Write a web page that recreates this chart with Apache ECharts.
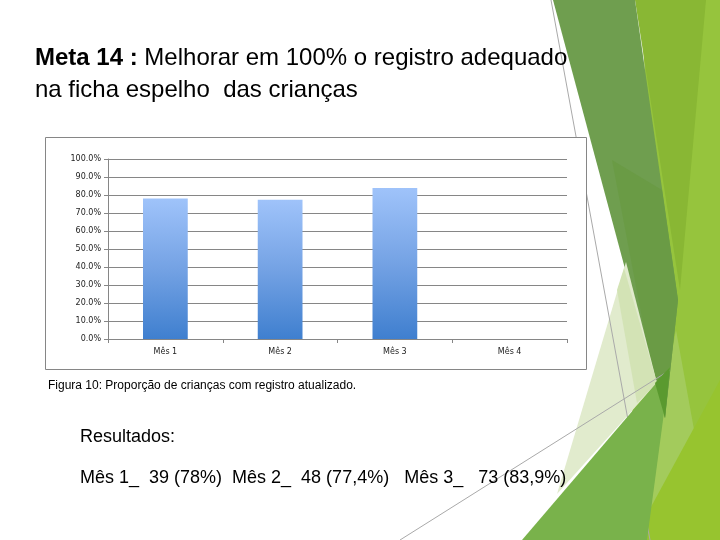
<!DOCTYPE html>
<html><head><meta charset="utf-8">
<script src="https://cdn.jsdelivr.net/npm/echarts@6/dist/echarts.min.js"></script>
<style>html,body{margin:0;padding:0;background:#fff}#c{width:720px;height:540px}</style>
</head><body><div id="c"></div>
<script>
const categories = ['Mês 1', 'Mês 2', 'Mês 3', 'Mês 4'];
const proportions = [0.78, 0.774, 0.839, null];
const titleLine1 = 'Melhorar em 100% o registro adequado';
const titleBold = 'Meta 14 :';
const titleLine2 = 'na ficha espelho  das crianças';
const caption = 'Figura 10: Proporção de crianças com registro atualizado.';
const resultsHead = 'Resultados:';
const resultsLine = 'Mês 1_  39 (78%)  Mês 2_  48 (77,4%)   Mês 3_   73 (83,9%)';

const chart = echarts.init(document.getElementById('c'), null, {renderer: 'canvas'});
function poly(points, fill, z, opacity) {
  return {type: 'polygon', z: z, silent: true, shape: {points: points}, style: {fill: fill, opacity: opacity == null ? 1 : opacity}};
}
function line(x1, y1, x2, y2, z) {
  return {type: 'line', z: z, silent: true, shape: {x1: x1, y1: y1, x2: x2, y2: y2}, style: {stroke: '#a9a9a9', lineWidth: 1}};
}
const font = '"Liberation Sans", Arial, sans-serif';
chart.setOption({
  animation: false,
  backgroundColor: '#ffffff',
  grid: {left: 108, right: 153, top: 159, bottom: 201, containLabel: false},
  xAxis: {
    type: 'category', data: categories, boundaryGap: true,
    axisLine: {lineStyle: {color: '#868686', width: 1}},
    axisTick: {show: true, length: 4, lineStyle: {color: '#868686'}},
    axisLabel: {color: '#222', fontSize: 8, fontFamily: '"DejaVu Sans", sans-serif', margin: 9}
  },
  yAxis: {
    type: 'value', min: 0, max: 1, interval: 0.1,
    axisLine: {show: true, lineStyle: {color: '#868686', width: 1}},
    axisTick: {show: true, length: 4, lineStyle: {color: '#868686'}},
    splitLine: {lineStyle: {color: '#868686', width: 1}},
    axisLabel: {color: '#222', fontSize: 8, fontFamily: '"DejaVu Sans", sans-serif', margin: 7,
      formatter: function (v) { return (v * 100).toFixed(1) + '%'; }}
  },
  series: [{
    type: 'bar', data: proportions, barWidth: '39%',
    itemStyle: {color: new echarts.graphic.LinearGradient(0, 0, 0, 1, [
      {offset: 0, color: '#9fc3fa'}, {offset: 0.5, color: '#74a2e4'}, {offset: 1, color: '#3f7fcf'}])}
  }],
  graphic: {elements: [
    // decorative background shapes (right side)
    poly([[640,0],[720,0],[720,540],[600,540],[660,300]], '#96c43d', -20),
    poly([[635,0],[706,0],[680,290]], '#89b734', -19),
    poly([[676,330],[695,435],[652,540],[640,540],[668,372]], '#a3cb5c', -18),
    poly([[720,380],[720,540],[633,540]], '#97c42f', -17),
    poly([[553,0],[635,0],[678,300],[665,418]], '#6f9e4f', -16),
    poly([[612,160],[662,190],[678,300],[665,418],[650,360]], '#6a9b45', -15),
    poly([[626,262],[657,383],[557,494]], '#e1ebcd', -14),
    poly([[624,268],[657,383],[637,403],[617,290]], '#d3e3b5', -13),
    line(551, 0, 650, 540, -12),
    line(400, 540, 670, 370, -12),
    poly([[522,540],[670,367],[663,420],[647,540]], '#79b24b', -11),
    poly([[655,383],[670,367],[665,418]], '#5a9a2f', -10),
    // chart box
    {type: 'rect', z: -1, silent: true, shape: {x: 45.5, y: 137.5, width: 541, height: 232},
      style: {fill: '#ffffff', stroke: '#868686', lineWidth: 1}},
    // texts
    {type: 'text', z: 10, left: 35, top: 46, style: {
      text: '{b|' + titleBold + '} ' + titleLine1, font: '24px ' + font, fill: '#000',
      rich: {b: {fontWeight: 'bold', fontSize: 24, fontFamily: font, fill: '#000'}}}},
    {type: 'text', z: 10, left: 35, top: 78, style: {text: titleLine2, font: '24px ' + font, fill: '#000'}},
    {type: 'text', z: 10, left: 48, top: 380, style: {text: caption, font: '12px ' + font, fill: '#000'}},
    {type: 'text', z: 10, left: 80, top: 428, style: {text: resultsHead, font: '18px ' + font, fill: '#000'}},
    {type: 'text', z: 10, left: 80, top: 469, style: {text: resultsLine, font: '18px ' + font, fill: '#000'}}
  ]}
});
</script></body></html>
